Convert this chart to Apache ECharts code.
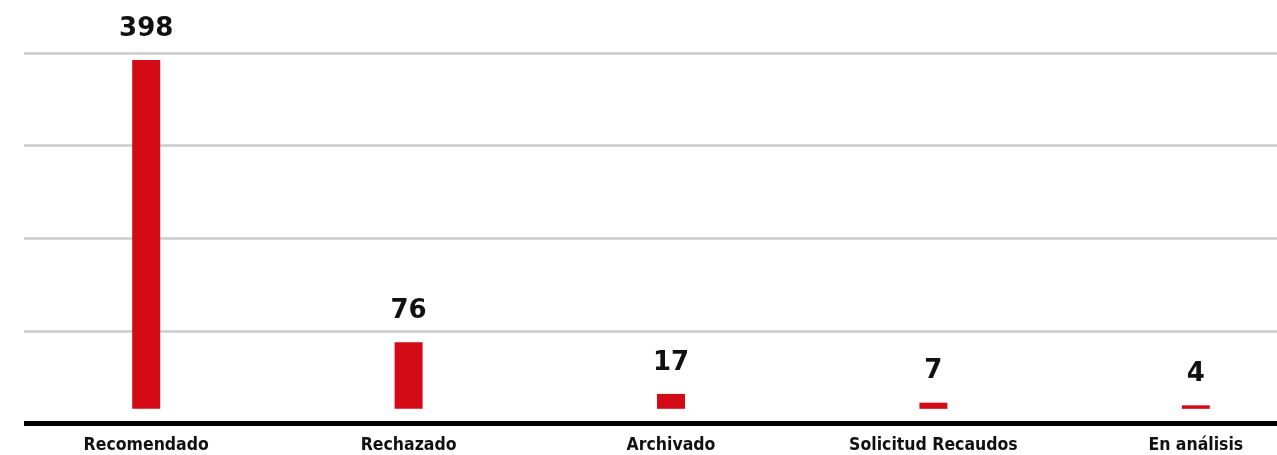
<!DOCTYPE html>
<html>
<head>
<meta charset="utf-8">
<script src="https://cdn.jsdelivr.net/npm/echarts@6/dist/echarts.min.js"></script>
<style>
  html, body { margin: 0; padding: 0; background: #ffffff; }
  #chart { width: 1277px; height: 455px; }
</style>
</head>
<body>
<div id="chart"></div>
<script>
// Estado de las solicitudes
const categories = ['Recomendado', 'Rechazado', 'Archivado', 'Solicitud Recaudos', 'En análisis'];
const values = [398, 76, 17, 7, 4];

const RED = '#d40b16';

const chart = echarts.init(document.getElementById('chart'), null, { renderer: 'canvas' });

chart.setOption({
  animation: false,
  backgroundColor: '#ffffff',
  grid: [
    // background frame: horizontal guide lines and the thick base line
    { left: 24, right: 0, top: 53, bottom: 31.5, containLabel: false, outerBoundsMode: 'none' },
    // bars and category labels (band runs past the right edge)
    { left: 15, width: 1312, top: 53, bottom: 31.5, containLabel: false, outerBoundsMode: 'none' }
  ],
  xAxis: [
    {
      gridIndex: 0, type: 'value', min: 0, max: 1,
      axisLine: { show: true, onZero: false, lineStyle: { color: '#000000', width: 5, cap: 'butt' } },
      axisTick: { show: false }, axisLabel: { show: false }, splitLine: { show: false }
    },
    {
      gridIndex: 1, type: 'category', data: categories,
      axisLine: { show: false }, axisTick: { show: false },
      axisLabel: {
        margin: 13,
        color: '#111111',
        fontFamily: 'DejaVu Sans Condensed, DejaVu Sans',
        fontWeight: 'bold',
        fontSize: 17.5
      }
    }
  ],
  yAxis: [
    {
      gridIndex: 0, type: 'value', min: 0, max: 4, interval: 1,
      axisLine: { show: false }, axisTick: { show: false }, axisLabel: { show: false },
      splitLine: { show: true, lineStyle: { color: '#cbcbcb', width: 2.5 } }
    },
    {
      gridIndex: 1, type: 'value', min: -16.75, max: 406,
      axisLine: { show: false }, axisTick: { show: false }, axisLabel: { show: false },
      splitLine: { show: false }
    }
  ],
  series: [
    {
      type: 'bar',
      xAxisIndex: 1,
      yAxisIndex: 1,
      data: values,
      barWidth: 28,
      itemStyle: { color: RED },
      label: {
        show: true,
        position: 'top',
        distance: 18,
        color: '#111111',
        fontFamily: 'DejaVu Sans',
        fontWeight: 'bold',
        fontSize: 26
      }
    }
  ]
});
</script>
</body>
</html>
